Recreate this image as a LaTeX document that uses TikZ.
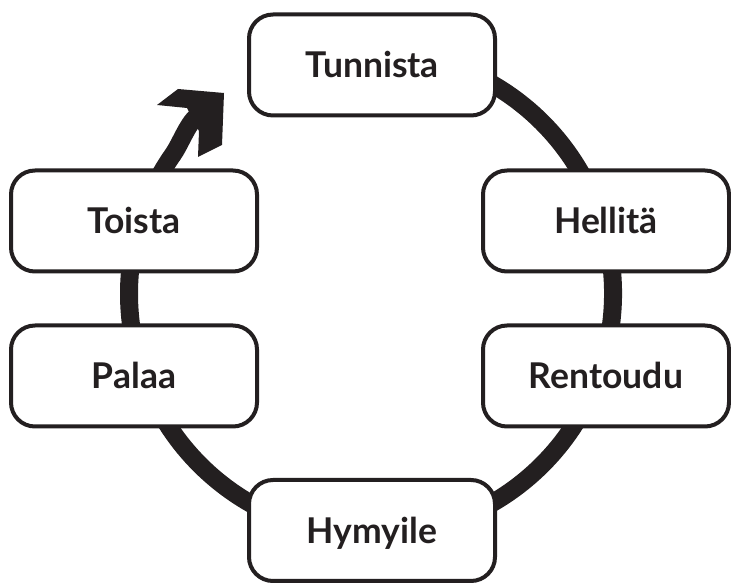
\documentclass[tikz,border=0pt]{standalone}
\usepackage{fontspec}
\setmainfont{Lato}
\definecolor{ink}{HTML}{231F20}
\begin{document}
\begin{tikzpicture}[x=1pt,y=1pt,
  stepbox/.style={draw=ink, line width=4pt, fill=white, rounded corners=24pt,
    minimum width=246pt, minimum height=101pt, inner sep=0pt,
    font=\fontsize{35.5}{38}\selectfont\bfseries, text=ink,
    text height=25.4pt, text depth=0pt},
  ring/.style={draw=ink, line width=18pt}]
\useasboundingbox (0,0) rectangle (731,583);
\coordinate (C) at (371,289.4);
% ring with arrow shaft
\draw[ring] (C) ++(115:242) arc[start angle=475,end angle=145,radius=242]
  .. controls (180.3,438.8) and (187,458.3) .. (197,467) coordinate (hb);
% arrow head
\coordinate (n1) at (187,475);
\coordinate (bl) at (157,478);
\coordinate (sa) at (178,494);
\coordinate (tip) at (224,490);
\coordinate (sb) at (222,438);
\coordinate (br) at (198,426);
\coordinate (n2) at (199,452);
\fill[ink] (n1) -- (bl) -- (sa) -- (tip) -- (sb) -- (br) -- (n2) -- cycle;
% steps
\node[stepbox] (tunnista) at (372,518) {Tunnista};
\node[stepbox] (toista) at (134,362) {Toista};
\node[stepbox] (hellita) at (606,362) {Hellitä};
\node[stepbox] (palaa) at (134,207) {Palaa};
\node[stepbox] (rentoudu) at (606,207) {Rentoudu};
\node[stepbox] (hymyile) at (372,52.5) {Hymyile};
\end{tikzpicture}
\end{document}
